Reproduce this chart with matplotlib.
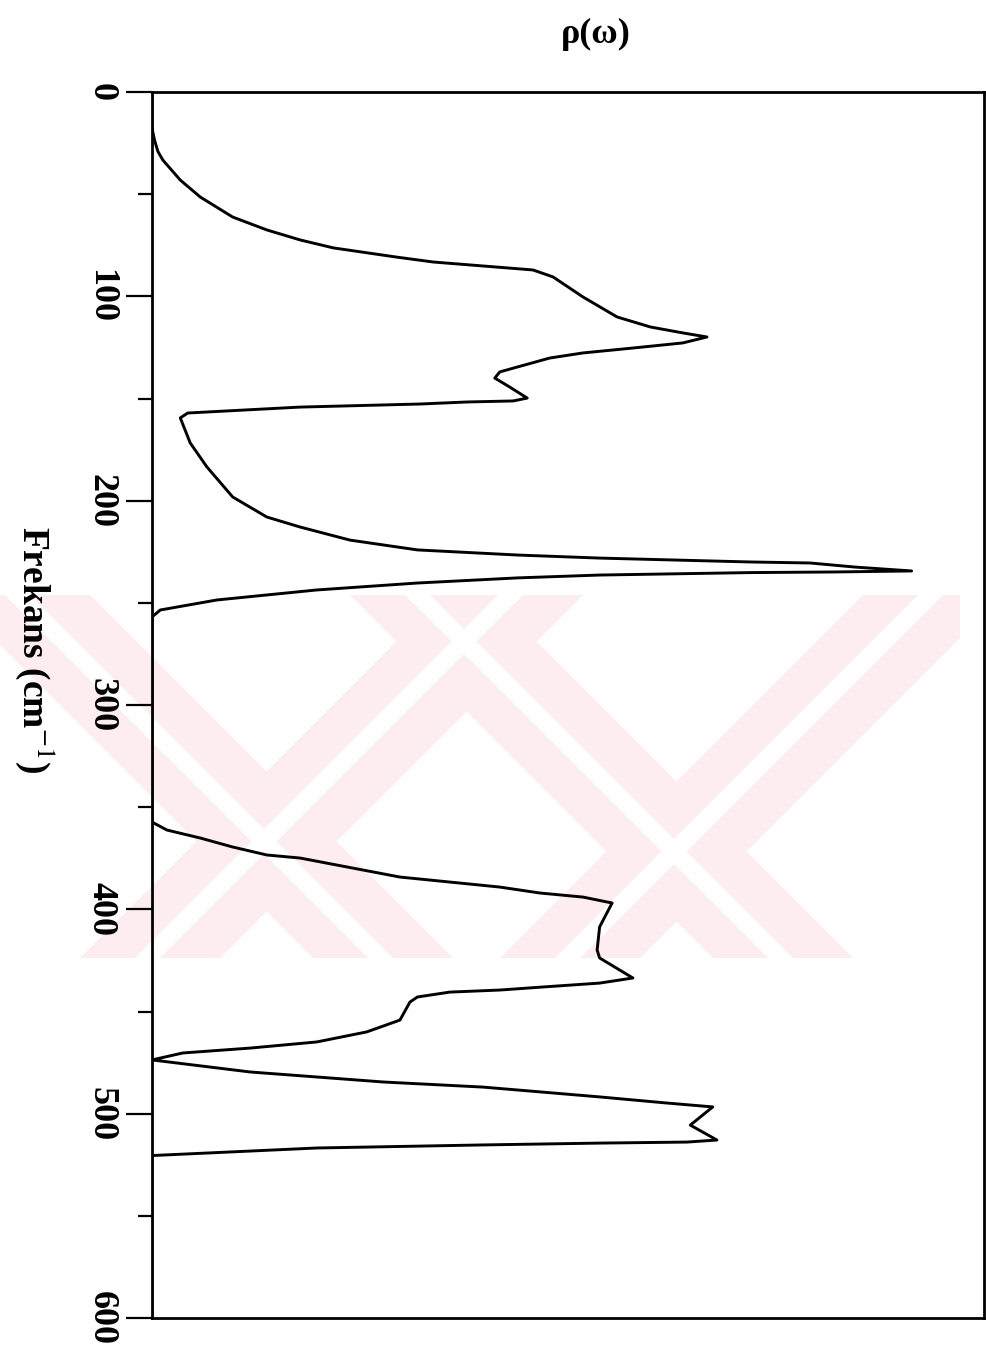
import numpy as np
import matplotlib
matplotlib.use("Agg")
import matplotlib.pyplot as plt
from matplotlib.patches import Polygon, Rectangle

# ---- data: phonon density of states, frequency (cm^-1) vs rho (arb. units) ----
freq = [0, 17.6, 23.5, 29.0, 33.3, 43.1, 51.4, 61.2, 67.5, 72.4, 76.3, 80.8, 83.2, 87.1, 90.5,
        100.3, 110.1, 115.0, 117.9, 119.9, 122.8, 125.3, 127.7, 130.2, 134.6, 137.0,
        140.0, 144.4, 149.8, 151.2, 151.7, 152.7, 154.2, 157.1, 159.5, 171.8, 183.5,
        198.2, 208.0, 212.9, 219.3, 224.1, 226.6, 228.1, 230.0, 230.5, 232.5, 234.4,
        234.9, 235.2, 236.4, 237.8, 240.3, 243.7, 248.6, 253.5, 256.9,
        357.3, 361.2, 365.1, 369.5, 373.4, 374.9, 384.2, 389.1, 392.0, 394.0, 396.9,
        408.6, 419.9, 423.8, 433.6, 436.1, 438.0, 439.5, 440.5, 442.9, 445.4, 454.2,
        460.0, 464.9, 467.9, 470.3, 473.7, 479.6, 484.5, 487.0, 491.8, 494.8, 496.7,
        505.6, 512.9, 513.9, 514.4, 515.3, 516.8, 520.5, 600]
rho = [0, 0, 0.003, 0.007, 0.013, 0.034, 0.058, 0.097, 0.138, 0.178, 0.218, 0.294, 0.338, 0.458, 0.482,
       0.518, 0.559, 0.599, 0.638, 0.667, 0.638, 0.578, 0.518, 0.478, 0.439, 0.418,
       0.412, 0.430, 0.451, 0.434, 0.379, 0.322, 0.178, 0.043, 0.034, 0.046, 0.066,
       0.097, 0.138, 0.178, 0.238, 0.319, 0.439, 0.538, 0.719, 0.791, 0.845, 0.913,
       0.819, 0.719, 0.538, 0.439, 0.319, 0.198, 0.078, 0.010, 0,
       0, 0.018, 0.058, 0.097, 0.138, 0.178, 0.298, 0.418, 0.466, 0.518, 0.553,
       0.538, 0.535, 0.538, 0.578, 0.538, 0.470, 0.418, 0.358, 0.319, 0.310, 0.298,
       0.258, 0.198, 0.118, 0.037, 0, 0.118, 0.278, 0.398, 0.538, 0.619, 0.674,
       0.647, 0.679, 0.643, 0.538, 0.398, 0.198, 0, 0]
yticks = [0, 100, 200, 300, 400, 500, 600]
ytick_labels = ["0", "100", "200", "300", "400", "500", "600"]
minor_ticks = [50, 150, 250, 350, 450, 550]

W, H = 986, 1354
plt.rcParams['font.family'] = ['Liberation Serif', 'DejaVu Serif']
plt.rcParams['mathtext.fontset'] = 'stix'

fig = plt.figure(figsize=(W / 100, H / 100), dpi=100)

# ---- faint watermark (decoration) ----
def px(x, y):
    return (x / W, 1 - y / H)

y0, y1 = 595, 958
clip = Rectangle(px(0, y1), 960 / W, (y1 - y0) / H, transform=fig.transFigure,
                 facecolor='none', edgecolor='none')
fig.add_artist(clip)
pink = '#fdedf0'
dy = y1 - y0
bands = []
for xs in (-50, 350):            # "\" bands
    bands.append([(xs, y0), (xs + 140, y0), (xs + 140 + dy, y1), (xs + dy, y1)])
for xs in (80, 500):            # "/" bands
    bands.append([(xs, y1), (xs + 140, y1), (xs + 140 + dy, y0), (xs + dy, y0)])
for b in bands:
    p = Polygon([px(*q) for q in b], closed=True, transform=fig.transFigure,
                facecolor=pink, edgecolor='none', zorder=0)
    fig.add_artist(p)
    p.set_clip_path(clip)
for b in bands:
    (ax_, ay_), (bx_, by_), (cx_, cy_), (dx_, dy_) = b
    s = [(ax_ + 55, ay_), (ax_ + 80, ay_), (dx_ + 80, dy_), (dx_ + 55, dy_)]
    p = Polygon([px(*q) for q in s], closed=True, transform=fig.transFigure,
                facecolor='white', edgecolor='none', zorder=0)
    fig.add_artist(p)
    p.set_clip_path(clip)

# ---- axes ----
ax = fig.add_axes([152 / W, 1 - 1318 / H, (984 - 152) / W, (1318 - 92) / H])
ax.patch.set_alpha(0)
ax.plot(rho, freq, color='black', lw=2.1, zorder=3, solid_joinstyle='round')
ax.set_xlim(0, 1.0)
ax.set_ylim(600, 0)

for s in ax.spines.values():
    s.set_linewidth(2.0)

ax.set_xticks([])
ax.set_yticks(yticks)
ax.set_yticklabels(ytick_labels)
ax.set_yticks(minor_ticks, minor=True)
ax.tick_params(axis='y', which='major', direction='out', length=19, width=1.6,
               pad=6, labelsize=26)
ax.tick_params(axis='y', which='minor', direction='out', length=10, width=1.6)
for lab in ax.get_yticklabels():
    lab.set_rotation(-90)
    lab.set_va('center')
    lab.set_fontweight('bold')

fig.text(35 / W, 1 - 650 / H, r"Frekans (cm$^{-1}$)", rotation=-90,
         ha='center', va='center', fontsize=27, fontweight='bold')
fig.text(596 / W, 1 - 34 / H, "ρ(ω)", ha='center', va='center',
         fontsize=26, fontweight='bold')

fig.savefig("out.png", dpi=100)
